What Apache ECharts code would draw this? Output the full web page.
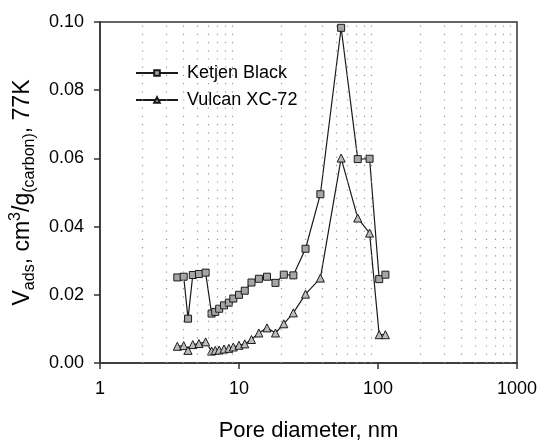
<!DOCTYPE html>
<html>
<head>
<meta charset="utf-8">
<script src="https://cdn.jsdelivr.net/npm/echarts@6/dist/echarts.min.js"></script>
<style>
html,body{margin:0;padding:0;background:#fff;}
#chart{width:538px;height:443px;}
</style>
</head>
<body>
<div id="chart"></div>
<script>
// Pore diameters (nm)
var poreDiameter = [3.6, 4.0, 4.3, 4.65, 5.15, 5.75, 6.35, 6.75, 7.2, 7.8, 8.45, 9.1, 10.0, 11.0, 12.3, 13.9, 15.9, 18.3, 21.0, 24.6, 30.1, 38.5, 54.3, 71.5, 87, 102, 113];
var ketjenBlack = [0.0251, 0.0253, 0.0130, 0.0258, 0.0261, 0.0265, 0.0145, 0.0150, 0.0159, 0.0169, 0.0177, 0.0189, 0.0200, 0.0212, 0.0236, 0.0247, 0.0253, 0.0235, 0.0259, 0.0257, 0.0335, 0.0495, 0.0983, 0.0598, 0.0599, 0.0246, 0.0259];
var vulcanXC72 = [0.0049, 0.0051, 0.0037, 0.0054, 0.0057, 0.0062, 0.0035, 0.0037, 0.0038, 0.0041, 0.0043, 0.0047, 0.0052, 0.0056, 0.0069, 0.0088, 0.0103, 0.0088, 0.0115, 0.0147, 0.0202, 0.0249, 0.0601, 0.0425, 0.0381, 0.0083, 0.0083];
var minorGridValues = [2, 3, 4, 5, 6, 7, 8, 9, 20, 30, 40, 50, 60, 70, 80, 90, 200, 300, 400, 500, 600, 700, 800, 900];
var seriesNames = ['Ketjen Black', 'Vulcan XC-72'];

function pairs(xs, ys) {
  return xs.map(function (x, i) { return [x, ys[i]]; });
}

var FONT = 'Liberation Sans, Arial, Helvetica, sans-serif';
var chart = echarts.init(document.getElementById('chart'), null, {renderer: 'canvas'});

var option = {
  backgroundColor: '#fff',
  animation: false,
  textStyle: {fontFamily: FONT, color: '#000'},
  grid: {
    left: 100, right: 21, top: 22, bottom: 80,
    containLabel: false, outerBoundsMode: 'none',
    show: true, borderColor: '#333', borderWidth: 1.5, backgroundColor: 'transparent'
  },
  legend: {
    data: seriesNames,
    orient: 'vertical',
    left: 123, top: 40,
    padding: [24, 14, 18, 12],
    backgroundColor: '#fff',
    itemWidth: 42, itemHeight: 7, itemGap: 9,
    textStyle: {fontSize: 18, fontFamily: FONT, color: '#000', padding: [0, 0, 0, 4]}
  },
  xAxis: {
    type: 'log', logBase: 10, min: 1, max: 1000,
    name: 'Pore diameter, nm',
    nameLocation: 'middle', nameGap: 57,
    nameTextStyle: {fontSize: 22, fontFamily: FONT, color: '#000'},
    axisLine: {show: true, onZero: false, lineStyle: {color: '#333', width: 1.5}},
    axisTick: {show: true, inside: false, length: 6, lineStyle: {color: '#333', width: 1.5}},
    axisLabel: {fontSize: 18, fontFamily: FONT, color: '#000', margin: 17,
      formatter: function (v) { return String(Math.round(v)); }},
    splitLine: {show: false}
  },
  yAxis: {
    type: 'value', min: 0, max: 0.1, interval: 0.02,
    name: '{n|V}{s|ads}{n|, cm}{p|3}{n|/g}{s|(carbon)}{n|, 77K}',
    nameLocation: 'middle', nameGap: 61, nameRotate: 90,
    nameTextStyle: {
      fontFamily: FONT, color: '#000',
      rich: {
        n: {fontSize: 23, lineHeight: 30, fontFamily: FONT, color: '#000'},
        s: {fontSize: 16, lineHeight: 10, verticalAlign: 'bottom', fontFamily: FONT, color: '#000'},
        p: {fontSize: 16, lineHeight: 12, verticalAlign: 'top', fontFamily: FONT, color: '#000'}
      }
    },
    axisLine: {show: true, lineStyle: {color: '#333', width: 1.5}},
    axisTick: {show: true, inside: false, length: 6, lineStyle: {color: '#333', width: 1.5}},
    axisLabel: {fontSize: 18, fontFamily: FONT, color: '#000', margin: 16,
      formatter: function (v) { return v.toFixed(2); }},
    splitLine: {show: false}
  },
  series: [
    {
      name: 'grid', type: 'line', data: [], silent: true, z: 1,
      markLine: {
        silent: true, symbol: ['none', 'none'], animation: false,
        label: {show: false},
        lineStyle: {color: '#999', width: 1.2, type: [1.2, 7]},
        data: minorGridValues.map(function (v) { return {xAxis: v}; })
      }
    },
    {
      name: seriesNames[0], type: 'line', z: 3,
      data: pairs(poreDiameter, ketjenBlack),
      symbol: 'rect', symbolSize: 7,
      lineStyle: {color: '#1a1a1a', width: 1.2},
      itemStyle: {color: '#a6a6a6', borderColor: '#1a1a1a', borderWidth: 1}
    },
    {
      name: seriesNames[1], type: 'line', z: 3,
      data: pairs(poreDiameter, vulcanXC72),
      symbol: 'triangle', symbolSize: 8,
      lineStyle: {color: '#1a1a1a', width: 1.2},
      itemStyle: {color: '#bdbdbd', borderColor: '#1a1a1a', borderWidth: 1}
    }
  ]
};
chart.setOption(option);
</script>
</body>
</html>
